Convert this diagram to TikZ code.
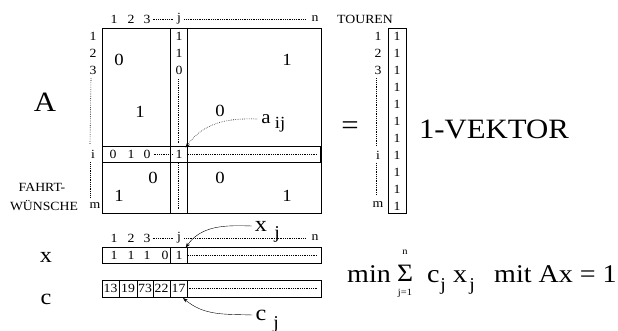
\documentclass[tikz,border=0pt]{standalone}
\usepackage{fontspec}
\setmainfont[FakeStretch=1.1]{Liberation Serif}
\usetikzlibrary{arrows.meta}
\begin{document}
\begin{tikzpicture}[x=1pt,y=-1pt,
  sm/.style={font=\fontsize{12.5}{13}\selectfont, inner sep=0pt},
  md/.style={font=\fontsize{17}{18}\selectfont, inner sep=0pt},
  lg/.style={font=\fontsize{28}{30}\selectfont, inner sep=0pt},
  lb/.style={font=\fontsize{22}{24}\selectfont, inner sep=0pt},
  fm/.style={font=\fontsize{25.5}{27}\selectfont, inner sep=0pt, anchor=base west},
  dots/.style={line width=0.6pt, dash pattern=on 0.6pt off 1.2pt},
  box/.style={line width=0.8pt},
  tip/.style={-{Stealth[length=5pt,width=3.5pt]}},
]
\useasboundingbox (0,0) rectangle (618,331);

% ---------- matrix A ----------
\draw[box] (102,28) rectangle (321,213);
\draw[box] (170,28) -- (170,213) (187,28) -- (187,213);
\draw[box] (102,146) -- (321,146) (102,162) -- (321,162);
\draw[line width=2pt] (321,146) -- (321,162);

% column labels
\node[sm] (c1) at (114,19) {1};
\node[sm] (c2) at (131,19) {2};
\node[sm] (c3) at (147,19) {3};
\node[sm] (cj) at (179,19) {j};
\node[sm] (cn) at (315,19) {n};
\draw[dots] ([xshift=2pt]c3.east) -- ([xshift=-3pt]cj.west);
\draw[dots] ([xshift=3pt]cj.east) -- ([xshift=-5pt]cn.west);

% row labels
\node[sm] (r1) at (93,36) {1};
\node[sm] (r2) at (93,53) {2};
\node[sm] (r3) at (93,70) {3};
\node[sm] (ri) at (93,154) {i};
\node[sm] (rm) at (95,206) {m};
\draw[dots] ([xshift=-2pt,yshift=-4pt]r3.south) -- ([xshift=-3pt,yshift=5pt]ri.north);
\draw[dots] ([xshift=-3pt,yshift=-4pt]ri.south) -- ([xshift=-5pt,yshift=6pt]rm.north);

% column j entries
\node[sm] (j1) at (179,36) {1};
\node[sm] (j2) at (179,53) {1};
\node[sm] (j3) at (179,70) {0};
\node[sm] (ij) at (179,154) {1};
\draw[dots] ([xshift=-1pt,yshift=-5pt]j3.south) -- ([xshift=-1pt,yshift=6pt]ij.north);
\draw[dots] ([xshift=-1pt,yshift=-5pt]ij.south) -- (178,210);

% row i entries
\node[sm] (i1) at (113,154) {0};
\node[sm] (i2) at (131,154) {1};
\node[sm] (i3) at (147,154) {0};
\draw[dots] ([xshift=3pt]i3.east) -- ([xshift=-2pt]ij.west);
\draw[dots] ([xshift=4pt]ij.east) -- (318,154);

% block entries
\node[md] (b1) at (119,60) {0};
\node[md] (b2) at (287,60) {1};
\node[md] (b3) at (140,112) {1};
\node[md] (b4) at (220,111) {0};
\node[md] (b5) at (153,178) {0};
\node[md] (b6) at (220,178) {0};
\node[md] (b7) at (119,196) {1};
\node[md] (b8) at (287,196) {1};

% a_ij
\node[font=\fontsize{19}{20}\selectfont, inner sep=0pt] (aij) at (266,119) {a};
\node[font=\fontsize{17}{18}\selectfont, inner sep=0pt] (aijs) at (280,125) {ij};
\draw[dots, tip] ([xshift=-4pt]aij.west) to[out=178, in=55] ([xshift=3pt,yshift=2pt]ij.north east);

% labels
\node[lg] (A) at (45,102) {A};
\node[sm] (f1) at (42,187) {FAHRT-};
\node[sm] (f2) at (44,206) {WÜNSCHE};

% ---------- vector ----------
\node[sm] (tou) at (365,19) {TOUREN};
\draw[box] (388,28) rectangle (406,213);
\foreach \k in {0,...,10} \node[sm] (v\k) at (397,{36+17*\k}) {1};
\node[sm] (vr1) at (378,36) {1};
\node[sm] (vr2) at (378,53) {2};
\node[sm] (vr3) at (378,70) {3};
\node[sm] (vri) at (378,155) {i};
\node[sm] (vrm) at (378,205) {m};
\draw[dots] ([xshift=-2pt,yshift=-4pt]vr3.south) -- ([xshift=-2pt,yshift=5pt]vri.north);
\draw[dots] ([xshift=-2pt,yshift=-4pt]vri.south) -- ([xshift=-2pt,yshift=7pt]vrm.north);
\node[lg] (eq) at (350,128) {=};
\node[lg] (vek) at (494,129) {1-VEKTOR};

% ---------- x row ----------
\node[sm] (x1) at (114,238) {1};
\node[sm] (x2) at (131,238) {2};
\node[sm] (x3) at (147,238) {3};
\node[sm] (xj) at (179,238) {j};
\node[sm] (xn) at (315,238) {n};
\draw[dots] ([xshift=2pt]x3.east) -- ([xshift=-3pt]xj.west);
\draw[dots] ([xshift=3pt]xj.east) -- ([xshift=-5pt]xn.west);
\draw[box] (102,247) rectangle (321,263);
\draw[box] (170,247) -- (170,263) (187,247) -- (187,263);
\node[sm] (xv1) at (114,255) {1};
\node[sm] (xv2) at (131,255) {1};
\node[sm] (xv3) at (147,255) {1};
\node[sm] (xv4) at (165,255) {0};
\node[sm] (xv5) at (179,255) {1};
\draw[dots] ([xshift=4pt]xv5.east) -- (318,255);

% ---------- c row ----------
\draw[box] (102,280) rectangle (321,297);
\foreach \xx in {119,137,153,170,187} \draw[box] (\xx,280) -- (\xx,297);
\node[sm] (cv1) at (110.5,288.5) {13};
\node[sm] (cv2) at (128,288.5) {19};
\node[sm] (cv3) at (145,288.5) {73};
\node[sm] (cv4) at (161.5,288.5) {22};
\node[sm] (cv5) at (178.5,288.5) {17};
\draw[dots] ([xshift=3pt]cv5.east) -- (318,288.5);

\node[lb] (X) at (46,257) {x};
\node[lb] (C) at (46,299) {c};

% x_j and c_j labels
\node[lb] (xl) at (261,226) {x};
\node[font=\fontsize{18}{19}\selectfont, inner sep=0pt] (xls) at (277,234) {j};
\draw[tip] ([xshift=-3pt]xl.west) to[out=178, in=55] ([xshift=3pt,yshift=3pt]xv5.north east);
\node[lb] (cl) at (261,315) {c};
\node[font=\fontsize{18}{19}\selectfont, inner sep=0pt] (cls) at (276,324) {j};
\coordinate (cend) at (183,298);
\draw[tip] ([xshift=-3pt]cl.west) to[out=178, in=-40] (cend);

% ---------- formula ----------
\node[fm] (min) at (347,282) {min};
\node[font=\fontsize{25}{27}\selectfont, inner sep=0pt, anchor=base] (sig) at (405,281) {Σ};
\node[font=\fontsize{9.5}{10}\selectfont, inner sep=0pt] (sn) at (405,252) {n};
\node[font=\fontsize{9.5}{10}\selectfont, inner sep=0pt] (sj) at (405,293) {j=1};
\node[fm] (fc) at (427,282) {c};
\node[font=\fontsize{18}{19}\selectfont, inner sep=0pt] (fcs) at (443,286) {j};
\node[fm] (fx) at (453,282) {x};
\node[font=\fontsize{18}{19}\selectfont, inner sep=0pt] (fxs) at (472,286) {j};
\node[fm] (mit) at (494,282) {mit Ax = 1};
\end{tikzpicture}
\end{document}
